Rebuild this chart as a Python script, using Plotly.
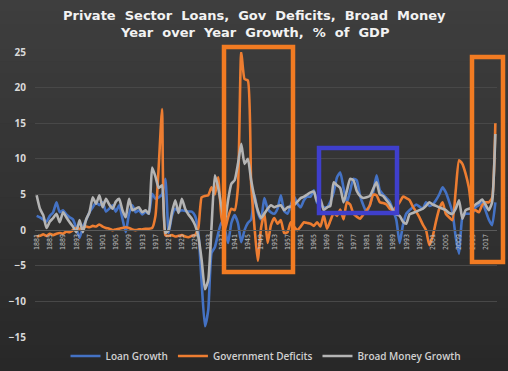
import plotly.graph_objects as go

years = list(range(1881, 2021))

loan_growth = [
    2.0, 1.8, 1.5, 1.2, 2.0, 2.5, 3.9, 2.5, 2.8, 2.2,        # 1881-1890
    1.8, 1.5, 0.3, -1.1, 0.5, 1.4, 2.5, 3.2, 3.9, 3.5,       # 1891-1900
    3.9, 2.6, 3.0, 3.5, 2.6, 3.5, 1.6, -0.3, 2.3, 3.5,       # 1901-1910
    2.5, 2.8, 2.2, 2.6, 2.3, 5.1, 4.4, 4.6, 5.0, 7.2,        # 1911-1920
    -0.4, 2.0, 3.0, 2.6, 2.8, 2.7, 2.6, 2.6, 2.0, -0.3,      # 1921-1930
    -7.4, -13.5, -11.2, -3.2, -2.4, -0.5, 1.1, 0.2, -1.8, 1.0,  # 1931-1940
    2.1, 1.0, -1.7, 0.0, 1.0, 1.5, 5.0, 2.5, 1.5, 4.5,       # 1941-1950
    3.0, 2.5, 2.3, 3.0, 4.9, 2.7, 2.3, 3.5, 4.7, 3.7,        # 1951-1960
    3.2, 4.2, 4.7, 4.7, 5.6, 3.8, 3.5, 3.2, 3.2, 4.0,        # 1961-1970
    5.3, 7.4, 8.1, 5.9, 3.9, 5.5, 7.2, 7.0, 4.8, 3.5,        # 1971-1980
    2.5, 3.6, 5.4, 7.7, 5.6, 5.0, 4.5, 4.0, 2.8, 1.4,        # 1981-1990
    -1.8, 0.7, 2.3, 2.8, 3.2, 3.6, 3.3, 3.0, 3.9, 3.4,       # 1991-2000
    3.6, 4.2, 5.0, 6.0, 5.3, 4.0, 2.5, -1.0, -3.3, 1.8,      # 2001-2010
    2.3, 2.3, 2.3, 3.2, 3.5, 3.9, 2.8, 1.5, 0.7, 3.9,        # 2011-2020
]

gov_deficits = [
    -0.9, -0.8, -0.6, -0.8, -0.5, -0.7, -0.5, -0.4, -0.5, -0.2,  # 1881-1890
    -0.3, 0.0, 0.3, 0.2, 0.3, 0.5, 0.4, 0.6, 0.5, 0.8,       # 1891-1900
    0.5, 0.3, 0.2, 0.0, 0.1, 0.2, 0.3, 0.4, 0.3, 0.1,        # 1901-1910
    0.0, 0.1, 0.1, 0.2, 0.2, 0.3, 2.0, 9.0, 17.0, -0.7,      # 1911-1920
    -0.8, -0.7, -0.9, -0.8, -0.7, -0.9, -1.0, -0.8, -0.7, 0.3,  # 1921-1930
    4.6, 4.8, 4.9, 6.0, 5.0, 7.4, 1.8, 0.0, 1.8, 3.0,        # 1931-1940
    2.8, 6.0, 25.0, 21.2, 21.0, 6.5, 0.5, -4.3, 0.3, 2.4,    # 1941-1950
    -1.8, 0.7, 1.7, 0.9, 1.4, -0.4, -0.3, 1.1, 0.5, 0.0,     # 1951-1960
    0.5, 1.1, 1.0, 0.9, 0.6, 1.1, 0.5, 2.1, 0.2, 1.3,        # 1961-1970
    2.4, 2.0, 2.9, 1.5, 3.9, 3.6, 2.3, 1.9, 1.6, 2.2,        # 1971-1980
    2.8, 3.5, 5.0, 4.9, 3.9, 3.8, 3.6, 3.0, 2.8, 3.3,        # 1981-1990
    3.9, 4.7, 4.5, 4.2, 3.3, 2.6, 1.8, 0.8, 0.0, -2.1,       # 1991-2000
    -0.9, 1.2, 3.0, 3.9, 2.3, 1.8, 1.4, 5.6, 9.8, 9.3,       # 2001-2010
    7.9, 5.9, 2.8, 2.8, 2.5, 3.5, 3.9, 3.9, 4.5, 15.0,       # 2011-2020
]

broad_money = [
    4.9, 3.0, 2.1, 0.3, 1.2, 1.7, 2.3, 1.1, 2.5, 1.8,        # 1881-1890
    1.1, 0.5, -0.3, 1.4, -0.3, 1.5, 2.5, 4.6, 3.7, 4.9,      # 1891-1900
    3.2, 4.4, 3.6, 3.0, 4.0, 4.4, 2.8, 1.8, 4.4, 2.8,        # 1901-1910
    3.0, 3.2, 2.5, 2.8, 2.3, 8.8, 7.5, 5.9, 6.3, -0.4,       # 1911-1920
    0.0, 2.5, 4.2, 2.4, 4.4, 3.0, 2.2, 1.6, 0.7, -0.9,       # 1921-1930
    -4.2, -8.3, -7.0, 0.5, 7.7, 6.0, 3.3, 1.1, 4.2, 6.5,     # 1931-1940
    7.0, 9.3, 12.1, 9.3, 10.0, 7.0, 4.6, 2.8, 1.7, 2.3,      # 1941-1950
    3.0, 3.5, 3.2, 3.4, 3.5, 2.8, 3.2, 3.3, 3.5, 4.0,        # 1951-1960
    4.5, 4.7, 5.0, 5.3, 5.4, 4.0, 4.3, 2.8, 3.2, 3.4,        # 1961-1970
    6.7, 6.3, 5.9, 3.9, 5.5, 7.2, 7.0, 5.5, 4.8, 4.5,        # 1971-1980
    4.6, 4.8, 5.8, 6.7, 5.0, 4.8, 4.2, 3.6, 2.8, 2.2,        # 1981-1990
    2.0, 1.2, 0.9, 2.2, 2.4, 2.6, 2.8, 3.0, 3.4, 3.9,        # 1991-2000
    3.6, 3.4, 3.2, 3.0, 2.8, 2.4, 2.3, 3.0, 4.2, 1.6,        # 2001-2010
    2.8, 3.0, 3.2, 3.6, 3.9, 4.3, 3.6, 2.8, 3.9, 13.5,       # 2011-2020
]

tick_years = list(range(1881, 2018, 4))
tick_labels = [str(y) for y in tick_years]

series_names = ["Loan Growth", "Government Deficits", "Broad Money Growth"]
series_colors = ["#4472C4", "#ED7D31", "#B4B4B4"]

title_lines = ["Private Sector Loans, Gov Deficits, Broad Money",
               "Year over Year Growth, % of GDP"]

assert len(loan_growth) == len(years) == len(gov_deficits) == len(broad_money)

fig = go.Figure()
for name, vals, col in zip(series_names, [loan_growth, gov_deficits, broad_money], series_colors):
    fig.add_trace(go.Scatter(
        x=years, y=vals, name=name, mode="lines",
        line=dict(color=col, width=2.6, shape="spline", smoothing=0.5),
        hoverinfo="skip",
    ))

W, H = 508, 371
ml, mr, mt, mb = 35, 11, 52, 34
PW, PH = W - ml - mr, H - mt - mb


def px_to_paper(x, y):
    return (x - ml) / PW, (H - mb - y) / PH


shapes = []
# background vertical gradient
n_bands = 30
top_c = (62, 62, 62)
bot_c = (40, 40, 40)
band_h = H / n_bands
for i in range(n_bands):
    t = i / (n_bands - 1)
    c = tuple(int(round(top_c[k] + (bot_c[k] - top_c[k]) * t)) for k in range(3))
    _, y1 = px_to_paper(0, i * band_h - 0.5)
    _, y0 = px_to_paper(0, (i + 1) * band_h + 0.5)
    x0, _ = px_to_paper(-1, 0)
    x1, _ = px_to_paper(W + 1, 0)
    shapes.append(dict(type="rect", xref="paper", yref="paper",
                       x0=x0, x1=x1, y0=y0, y1=y1, fillcolor="rgb(%d,%d,%d)" % c,
                       line=dict(width=0), layer="below"))

# highlight boxes (pixel positions in the reference)
boxes = [
    ((224, 47), (293, 272), "#F27B22"),
    ((319, 148), (397, 213), "#3F3FCC"),
    ((472, 57), (503, 262), "#F27B22"),
]
for (xa, ya), (xb, yb), col in boxes:
    x0, y0 = px_to_paper(xa, yb)
    x1, y1 = px_to_paper(xb, ya)
    shapes.append(dict(type="rect", xref="paper", yref="paper",
                       x0=x0, x1=x1, y0=y0, y1=y1,
                       line=dict(color=col, width=4.5), fillcolor="rgba(0,0,0,0)",
                       layer="above"))

annotations = []
for txt, ypx in zip(title_lines, [15, 32]):
    _, yp = px_to_paper(0, ypx)
    xp, _ = px_to_paper(254, 0)
    annotations.append(dict(
        text=txt.replace(" ", "\u00a0\u00a0"), xref="paper", yref="paper",
        x=xp, y=yp, xanchor="center", yanchor="middle", showarrow=False,
        font=dict(family="DejaVu Sans", size=13, color="#F2F2F2", weight="bold"),
    ))

fig.update_layout(
    width=W, height=H,
    margin=dict(l=ml, r=mr, t=mt, b=mb, autoexpand=False),
    paper_bgcolor="#353535",
    plot_bgcolor="rgba(0,0,0,0)",
    font=dict(family="Open Sans", color="#D9D9D9"),
    xaxis=dict(
        type="linear", range=[1880.5, 2020.5],
        tickvals=tick_years, ticktext=tick_labels, tickangle=-90,
        tickfont=dict(size=7, color="#BFBFBF", family="DejaVu Sans Condensed"),
        showgrid=False, zeroline=False,
        showline=True, linecolor="#5A5A5A", linewidth=1,
        anchor="free", position=15 / 40, ticks="",
    ),
    yaxis=dict(
        range=[-15, 25], dtick=5, tick0=-15,
        showgrid=True, gridcolor="#484848", gridwidth=1,
        zeroline=False, showline=False, ticks="",
        ticklabelstandoff=8,
        tickfont=dict(size=10, color="#D9D9D9", family="Open Sans", weight="bold"),
    ),
    legend=dict(
        orientation="h", x=0.5, xanchor="center", y=-19 / PH, yanchor="middle",
        font=dict(size=10, color="#D0D0D0", family="Open Sans", weight=600),
        bgcolor="rgba(0,0,0,0)",
    ),
    shapes=shapes,
    annotations=annotations,
    showlegend=True,
)

fig.write_html(
    "out.html",
    config={"displayModeBar": False},
    post_script="document.body.style.margin='0px';document.body.style.overflow='hidden';",
)
